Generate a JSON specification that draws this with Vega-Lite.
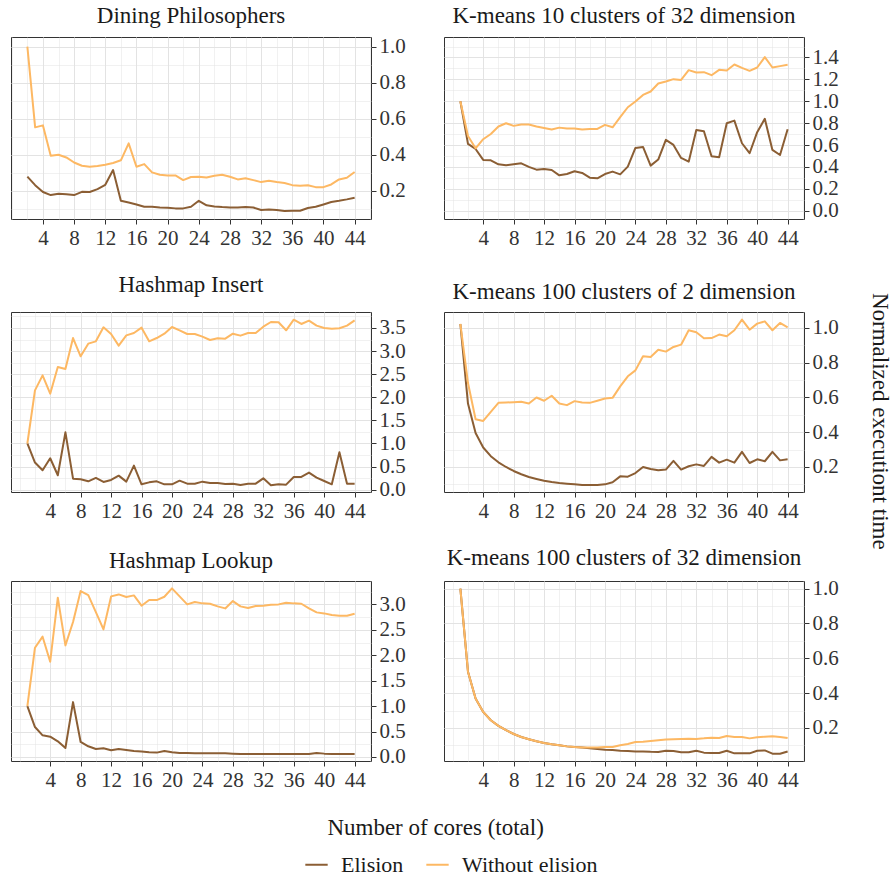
{
"$schema": "https://vega.github.io/schema/vega-lite/v6.json",
"padding": {"left": 10, "top": 4, "right": 2, "bottom": 3},
"datasets": {"d": [
{"p":"dp","c":2,"Elision":0.278,"Without elision":1.0},{"p":"dp","c":3,"Elision":0.231,"Without elision":0.552},{"p":"dp","c":4,"Elision":0.193,"Without elision":0.563},{"p":"dp","c":5,"Elision":0.176,"Without elision":0.394},{"p":"dp","c":6,"Elision":0.183,"Without elision":0.4},{"p":"dp","c":7,"Elision":0.181,"Without elision":0.385},{"p":"dp","c":8,"Elision":0.176,"Without elision":0.357},{"p":"dp","c":9,"Elision":0.194,"Without elision":0.339},{"p":"dp","c":10,"Elision":0.193,"Without elision":0.333},{"p":"dp","c":11,"Elision":0.209,"Without elision":0.337},{"p":"dp","c":12,"Elision":0.233,"Without elision":0.344},{"p":"dp","c":13,"Elision":0.315,"Without elision":0.354},{"p":"dp","c":14,"Elision":0.144,"Without elision":0.369},{"p":"dp","c":15,"Elision":0.135,"Without elision":0.463},{"p":"dp","c":16,"Elision":0.124,"Without elision":0.333},{"p":"dp","c":17,"Elision":0.111,"Without elision":0.348},{"p":"dp","c":18,"Elision":0.111,"Without elision":0.302},{"p":"dp","c":19,"Elision":0.107,"Without elision":0.289},{"p":"dp","c":20,"Elision":0.106,"Without elision":0.285},{"p":"dp","c":21,"Elision":0.102,"Without elision":0.285},{"p":"dp","c":22,"Elision":0.102,"Without elision":0.259},{"p":"dp","c":23,"Elision":0.111,"Without elision":0.276},{"p":"dp","c":24,"Elision":0.144,"Without elision":0.278},{"p":"dp","c":25,"Elision":0.119,"Without elision":0.274},{"p":"dp","c":26,"Elision":0.113,"Without elision":0.283},{"p":"dp","c":27,"Elision":0.109,"Without elision":0.289},{"p":"dp","c":28,"Elision":0.107,"Without elision":0.278},{"p":"dp","c":29,"Elision":0.107,"Without elision":0.263},{"p":"dp","c":30,"Elision":0.109,"Without elision":0.269},{"p":"dp","c":31,"Elision":0.107,"Without elision":0.259},{"p":"dp","c":32,"Elision":0.093,"Without elision":0.248},{"p":"dp","c":33,"Elision":0.096,"Without elision":0.256},{"p":"dp","c":34,"Elision":0.093,"Without elision":0.248},{"p":"dp","c":35,"Elision":0.087,"Without elision":0.243},{"p":"dp","c":36,"Elision":0.089,"Without elision":0.231},{"p":"dp","c":37,"Elision":0.089,"Without elision":0.228},{"p":"dp","c":38,"Elision":0.104,"Without elision":0.23},{"p":"dp","c":39,"Elision":0.111,"Without elision":0.22},{"p":"dp","c":40,"Elision":0.124,"Without elision":0.22},{"p":"dp","c":41,"Elision":0.137,"Without elision":0.235},{"p":"dp","c":42,"Elision":0.144,"Without elision":0.263},{"p":"dp","c":43,"Elision":0.152,"Without elision":0.272},{"p":"dp","c":44,"Elision":0.161,"Without elision":0.304},
{"p":"k10","c":1,"Elision":1.0,"Without elision":1.0},{"p":"k10","c":2,"Elision":0.61,"Without elision":0.683},{"p":"k10","c":3,"Elision":0.564,"Without elision":0.57},{"p":"k10","c":4,"Elision":0.464,"Without elision":0.653},{"p":"k10","c":5,"Elision":0.46,"Without elision":0.701},{"p":"k10","c":6,"Elision":0.424,"Without elision":0.769},{"p":"k10","c":7,"Elision":0.415,"Without elision":0.799},{"p":"k10","c":8,"Elision":0.424,"Without elision":0.775},{"p":"k10","c":9,"Elision":0.433,"Without elision":0.787},{"p":"k10","c":10,"Elision":0.4,"Without elision":0.787},{"p":"k10","c":11,"Elision":0.375,"Without elision":0.769},{"p":"k10","c":12,"Elision":0.381,"Without elision":0.756},{"p":"k10","c":13,"Elision":0.372,"Without elision":0.741},{"p":"k10","c":14,"Elision":0.323,"Without elision":0.759},{"p":"k10","c":15,"Elision":0.335,"Without elision":0.75},{"p":"k10","c":16,"Elision":0.36,"Without elision":0.75},{"p":"k10","c":17,"Elision":0.345,"Without elision":0.741},{"p":"k10","c":18,"Elision":0.302,"Without elision":0.747},{"p":"k10","c":19,"Elision":0.296,"Without elision":0.747},{"p":"k10","c":20,"Elision":0.335,"Without elision":0.784},{"p":"k10","c":21,"Elision":0.357,"Without elision":0.762},{"p":"k10","c":22,"Elision":0.332,"Without elision":0.854},{"p":"k10","c":23,"Elision":0.403,"Without elision":0.945},{"p":"k10","c":24,"Elision":0.573,"Without elision":0.997},{"p":"k10","c":25,"Elision":0.582,"Without elision":1.058},{"p":"k10","c":26,"Elision":0.412,"Without elision":1.089},{"p":"k10","c":27,"Elision":0.467,"Without elision":1.162},{"p":"k10","c":28,"Elision":0.647,"Without elision":1.18},{"p":"k10","c":29,"Elision":0.601,"Without elision":1.202},{"p":"k10","c":30,"Elision":0.482,"Without elision":1.195},{"p":"k10","c":31,"Elision":0.448,"Without elision":1.284},{"p":"k10","c":32,"Elision":0.738,"Without elision":1.263},{"p":"k10","c":33,"Elision":0.726,"Without elision":1.266},{"p":"k10","c":34,"Elision":0.497,"Without elision":1.238},{"p":"k10","c":35,"Elision":0.488,"Without elision":1.287},{"p":"k10","c":36,"Elision":0.799,"Without elision":1.281},{"p":"k10","c":37,"Elision":0.823,"Without elision":1.336},{"p":"k10","c":38,"Elision":0.616,"Without elision":1.305},{"p":"k10","c":39,"Elision":0.525,"Without elision":1.278},{"p":"k10","c":40,"Elision":0.717,"Without elision":1.308},{"p":"k10","c":41,"Elision":0.839,"Without elision":1.403},{"p":"k10","c":42,"Elision":0.555,"Without elision":1.308},{"p":"k10","c":43,"Elision":0.509,"Without elision":1.321},{"p":"k10","c":44,"Elision":0.744,"Without elision":1.333},
{"p":"hi","c":1,"Elision":1.0,"Without elision":1.0},{"p":"hi","c":2,"Elision":0.587,"Without elision":2.15},{"p":"hi","c":3,"Elision":0.42,"Without elision":2.475},{"p":"hi","c":4,"Elision":0.681,"Without elision":2.078},{"p":"hi","c":5,"Elision":0.312,"Without elision":2.656},{"p":"hi","c":6,"Elision":1.241,"Without elision":2.612},{"p":"hi","c":7,"Elision":0.239,"Without elision":3.283},{"p":"hi","c":8,"Elision":0.225,"Without elision":2.887},{"p":"hi","c":9,"Elision":0.181,"Without elision":3.161},{"p":"hi","c":10,"Elision":0.254,"Without elision":3.211},{"p":"hi","c":11,"Elision":0.167,"Without elision":3.514},{"p":"hi","c":12,"Elision":0.21,"Without elision":3.37},{"p":"hi","c":13,"Elision":0.304,"Without elision":3.118},{"p":"hi","c":14,"Elision":0.174,"Without elision":3.341},{"p":"hi","c":15,"Elision":0.522,"Without elision":3.392},{"p":"hi","c":16,"Elision":0.116,"Without elision":3.507},{"p":"hi","c":17,"Elision":0.159,"Without elision":3.211},{"p":"hi","c":18,"Elision":0.181,"Without elision":3.283},{"p":"hi","c":19,"Elision":0.116,"Without elision":3.377},{"p":"hi","c":20,"Elision":0.116,"Without elision":3.522},{"p":"hi","c":21,"Elision":0.196,"Without elision":3.45},{"p":"hi","c":22,"Elision":0.13,"Without elision":3.37},{"p":"hi","c":23,"Elision":0.13,"Without elision":3.37},{"p":"hi","c":24,"Elision":0.174,"Without elision":3.312},{"p":"hi","c":25,"Elision":0.145,"Without elision":3.24},{"p":"hi","c":26,"Elision":0.145,"Without elision":3.276},{"p":"hi","c":27,"Elision":0.123,"Without elision":3.269},{"p":"hi","c":28,"Elision":0.13,"Without elision":3.377},{"p":"hi","c":29,"Elision":0.101,"Without elision":3.334},{"p":"hi","c":30,"Elision":0.13,"Without elision":3.392},{"p":"hi","c":31,"Elision":0.13,"Without elision":3.392},{"p":"hi","c":32,"Elision":0.246,"Without elision":3.529},{"p":"hi","c":33,"Elision":0.094,"Without elision":3.63},{"p":"hi","c":34,"Elision":0.116,"Without elision":3.623},{"p":"hi","c":35,"Elision":0.109,"Without elision":3.45},{"p":"hi","c":36,"Elision":0.275,"Without elision":3.68},{"p":"hi","c":37,"Elision":0.275,"Without elision":3.587},{"p":"hi","c":38,"Elision":0.37,"Without elision":3.659},{"p":"hi","c":39,"Elision":0.261,"Without elision":3.551},{"p":"hi","c":40,"Elision":0.188,"Without elision":3.5},{"p":"hi","c":41,"Elision":0.116,"Without elision":3.486},{"p":"hi","c":42,"Elision":0.812,"Without elision":3.493},{"p":"hi","c":43,"Elision":0.13,"Without elision":3.551},{"p":"hi","c":44,"Elision":0.13,"Without elision":3.666},
{"p":"k2","c":1,"Elision":1.023,"Without elision":1.023},{"p":"k2","c":2,"Elision":0.565,"Without elision":0.683},{"p":"k2","c":3,"Elision":0.396,"Without elision":0.475},{"p":"k2","c":4,"Elision":0.312,"Without elision":0.465},{"p":"k2","c":5,"Elision":0.262,"Without elision":0.517},{"p":"k2","c":6,"Elision":0.227,"Without elision":0.569},{"p":"k2","c":7,"Elision":0.2,"Without elision":0.571},{"p":"k2","c":8,"Elision":0.177,"Without elision":0.573},{"p":"k2","c":9,"Elision":0.158,"Without elision":0.575},{"p":"k2","c":10,"Elision":0.142,"Without elision":0.565},{"p":"k2","c":11,"Elision":0.131,"Without elision":0.6},{"p":"k2","c":12,"Elision":0.121,"Without elision":0.581},{"p":"k2","c":13,"Elision":0.113,"Without elision":0.61},{"p":"k2","c":14,"Elision":0.108,"Without elision":0.565},{"p":"k2","c":15,"Elision":0.104,"Without elision":0.556},{"p":"k2","c":16,"Elision":0.1,"Without elision":0.579},{"p":"k2","c":17,"Elision":0.096,"Without elision":0.571},{"p":"k2","c":18,"Elision":0.096,"Without elision":0.569},{"p":"k2","c":19,"Elision":0.096,"Without elision":0.581},{"p":"k2","c":20,"Elision":0.1,"Without elision":0.594},{"p":"k2","c":21,"Elision":0.112,"Without elision":0.598},{"p":"k2","c":22,"Elision":0.146,"Without elision":0.664},{"p":"k2","c":23,"Elision":0.144,"Without elision":0.722},{"p":"k2","c":24,"Elision":0.165,"Without elision":0.756},{"p":"k2","c":25,"Elision":0.2,"Without elision":0.837},{"p":"k2","c":26,"Elision":0.188,"Without elision":0.833},{"p":"k2","c":27,"Elision":0.181,"Without elision":0.875},{"p":"k2","c":28,"Elision":0.185,"Without elision":0.864},{"p":"k2","c":29,"Elision":0.235,"Without elision":0.891},{"p":"k2","c":30,"Elision":0.185,"Without elision":0.904},{"p":"k2","c":31,"Elision":0.204,"Without elision":0.987},{"p":"k2","c":32,"Elision":0.215,"Without elision":0.975},{"p":"k2","c":33,"Elision":0.206,"Without elision":0.941},{"p":"k2","c":34,"Elision":0.258,"Without elision":0.942},{"p":"k2","c":35,"Elision":0.225,"Without elision":0.962},{"p":"k2","c":36,"Elision":0.242,"Without elision":0.952},{"p":"k2","c":37,"Elision":0.225,"Without elision":0.987},{"p":"k2","c":38,"Elision":0.287,"Without elision":1.048},{"p":"k2","c":39,"Elision":0.223,"Without elision":0.99},{"p":"k2","c":40,"Elision":0.244,"Without elision":1.025},{"p":"k2","c":41,"Elision":0.233,"Without elision":1.038},{"p":"k2","c":42,"Elision":0.287,"Without elision":0.987},{"p":"k2","c":43,"Elision":0.238,"Without elision":1.029},{"p":"k2","c":44,"Elision":0.244,"Without elision":1.004},
{"p":"hl","c":1,"Elision":1.0,"Without elision":1.0},{"p":"hl","c":2,"Elision":0.588,"Without elision":2.148},{"p":"hl","c":3,"Elision":0.425,"Without elision":2.365},{"p":"hl","c":4,"Elision":0.399,"Without elision":1.873},{"p":"hl","c":5,"Elision":0.307,"Without elision":3.131},{"p":"hl","c":6,"Elision":0.176,"Without elision":2.194},{"p":"hl","c":7,"Elision":1.078,"Without elision":2.653},{"p":"hl","c":8,"Elision":0.294,"Without elision":3.262},{"p":"hl","c":9,"Elision":0.209,"Without elision":3.183},{"p":"hl","c":10,"Elision":0.157,"Without elision":2.849},{"p":"hl","c":11,"Elision":0.17,"Without elision":2.509},{"p":"hl","c":12,"Elision":0.131,"Without elision":3.157},{"p":"hl","c":13,"Elision":0.157,"Without elision":3.196},{"p":"hl","c":14,"Elision":0.137,"Without elision":3.144},{"p":"hl","c":15,"Elision":0.118,"Without elision":3.177},{"p":"hl","c":16,"Elision":0.105,"Without elision":2.974},{"p":"hl","c":17,"Elision":0.092,"Without elision":3.085},{"p":"hl","c":18,"Elision":0.085,"Without elision":3.085},{"p":"hl","c":19,"Elision":0.118,"Without elision":3.151},{"p":"hl","c":20,"Elision":0.092,"Without elision":3.314},{"p":"hl","c":21,"Elision":0.078,"Without elision":3.157},{"p":"hl","c":22,"Elision":0.075,"Without elision":3.0},{"p":"hl","c":23,"Elision":0.072,"Without elision":3.046},{"p":"hl","c":24,"Elision":0.072,"Without elision":3.02},{"p":"hl","c":25,"Elision":0.072,"Without elision":3.013},{"p":"hl","c":26,"Elision":0.072,"Without elision":2.961},{"p":"hl","c":27,"Elision":0.072,"Without elision":2.921},{"p":"hl","c":28,"Elision":0.065,"Without elision":3.065},{"p":"hl","c":29,"Elision":0.059,"Without elision":2.961},{"p":"hl","c":30,"Elision":0.059,"Without elision":2.928},{"p":"hl","c":31,"Elision":0.059,"Without elision":2.967},{"p":"hl","c":32,"Elision":0.059,"Without elision":2.974},{"p":"hl","c":33,"Elision":0.059,"Without elision":2.993},{"p":"hl","c":34,"Elision":0.059,"Without elision":3.0},{"p":"hl","c":35,"Elision":0.059,"Without elision":3.033},{"p":"hl","c":36,"Elision":0.059,"Without elision":3.02},{"p":"hl","c":37,"Elision":0.059,"Without elision":3.013},{"p":"hl","c":38,"Elision":0.059,"Without elision":2.921},{"p":"hl","c":39,"Elision":0.078,"Without elision":2.843},{"p":"hl","c":40,"Elision":0.065,"Without elision":2.823},{"p":"hl","c":41,"Elision":0.059,"Without elision":2.79},{"p":"hl","c":42,"Elision":0.059,"Without elision":2.777},{"p":"hl","c":43,"Elision":0.059,"Without elision":2.777},{"p":"hl","c":44,"Elision":0.059,"Without elision":2.816},
{"p":"k32","c":1,"Elision":1.0,"Without elision":1.0},{"p":"k32","c":2,"Elision":0.523,"Without elision":0.523},{"p":"k32","c":3,"Elision":0.369,"Without elision":0.369},{"p":"k32","c":4,"Elision":0.292,"Without elision":0.292},{"p":"k32","c":5,"Elision":0.244,"Without elision":0.244},{"p":"k32","c":6,"Elision":0.212,"Without elision":0.212},{"p":"k32","c":7,"Elision":0.187,"Without elision":0.187},{"p":"k32","c":8,"Elision":0.165,"Without elision":0.165},{"p":"k32","c":9,"Elision":0.148,"Without elision":0.148},{"p":"k32","c":10,"Elision":0.135,"Without elision":0.135},{"p":"k32","c":11,"Elision":0.123,"Without elision":0.123},{"p":"k32","c":12,"Elision":0.113,"Without elision":0.113},{"p":"k32","c":13,"Elision":0.106,"Without elision":0.106},{"p":"k32","c":14,"Elision":0.1,"Without elision":0.1},{"p":"k32","c":15,"Elision":0.094,"Without elision":0.094},{"p":"k32","c":16,"Elision":0.09,"Without elision":0.09},{"p":"k32","c":17,"Elision":0.087,"Without elision":0.088},{"p":"k32","c":18,"Elision":0.083,"Without elision":0.087},{"p":"k32","c":19,"Elision":0.079,"Without elision":0.088},{"p":"k32","c":20,"Elision":0.075,"Without elision":0.09},{"p":"k32","c":21,"Elision":0.073,"Without elision":0.09},{"p":"k32","c":22,"Elision":0.069,"Without elision":0.1},{"p":"k32","c":23,"Elision":0.067,"Without elision":0.108},{"p":"k32","c":24,"Elision":0.065,"Without elision":0.119},{"p":"k32","c":25,"Elision":0.065,"Without elision":0.121},{"p":"k32","c":26,"Elision":0.063,"Without elision":0.125},{"p":"k32","c":27,"Elision":0.062,"Without elision":0.129},{"p":"k32","c":28,"Elision":0.069,"Without elision":0.133},{"p":"k32","c":29,"Elision":0.067,"Without elision":0.135},{"p":"k32","c":30,"Elision":0.06,"Without elision":0.137},{"p":"k32","c":31,"Elision":0.06,"Without elision":0.138},{"p":"k32","c":32,"Elision":0.069,"Without elision":0.137},{"p":"k32","c":33,"Elision":0.058,"Without elision":0.14},{"p":"k32","c":34,"Elision":0.056,"Without elision":0.144},{"p":"k32","c":35,"Elision":0.056,"Without elision":0.142},{"p":"k32","c":36,"Elision":0.069,"Without elision":0.154},{"p":"k32","c":37,"Elision":0.054,"Without elision":0.148},{"p":"k32","c":38,"Elision":0.054,"Without elision":0.148},{"p":"k32","c":39,"Elision":0.054,"Without elision":0.14},{"p":"k32","c":40,"Elision":0.069,"Without elision":0.146},{"p":"k32","c":41,"Elision":0.071,"Without elision":0.15},{"p":"k32","c":42,"Elision":0.052,"Without elision":0.152},{"p":"k32","c":43,"Elision":0.052,"Without elision":0.148},{"p":"k32","c":44,"Elision":0.065,"Without elision":0.142}
]},
"vconcat": [{
  "title": {"text": "Number of cores (total)", "orient": "bottom", "offset": 26, "dx": -15, "font": "Liberation Serif, DejaVu Serif, serif", "fontSize": 23, "fontWeight": "normal"},
  "hconcat": [{
    "title": {"text": "Normalized executiont time", "orient": "right", "offset": 29, "dx": 24, "font": "Liberation Serif, DejaVu Serif, serif", "fontSize": 23, "fontWeight": "normal"},
    "spacing": 24,
    "vconcat": [
      {"spacing": 37, "hconcat": [
        {"title": "Dining Philosophers", "width": 360, "height": 182, "data": {"name": "d"},
         "transform": [{"filter": "datum.p === 'dp'"}, {"fold": ["Elision", "Without elision"], "as": ["series", "value"]}],
         "mark": {"type": "line", "strokeWidth": 2, "strokeJoin": "round"},
         "encoding": {
           "x": {"field": "c", "type": "quantitative", "scale": {"domain": [-0.1, 46.1], "nice": false, "zero": false},
                 "axis": {"title": null, "values": [0,2,4,6,8,10,12,14,16,18,20,22,24,26,28,30,32,34,36,38,40,42,44,46], "labelExpr": "datum.value % 4 === 0 && datum.value > 0 ? datum.label : ''", "gridWidth": {"condition": {"test": "datum.value % 4 === 0 && datum.value > 0", "value": 1}, "value": 0.5}, "tickOpacity": {"condition": {"test": "datum.value % 4 === 0 && datum.value > 0", "value": 1}, "value": 0}}},
           "y": {"field": "value", "type": "quantitative", "scale": {"domain": [0.043, 1.054], "nice": false, "zero": false},
                 "axis": {"orient": "right", "title": null, "format": ".1f", "values": [0.1,0.2,0.3,0.4,0.5,0.6,0.7,0.8,0.9,1.0], "labelExpr": "abs(datum.value*5 - round(datum.value*5)) < 1e-6 ? datum.label : ''", "gridWidth": {"condition": {"test": "abs(datum.value*5 - round(datum.value*5)) < 1e-6", "value": 1}, "value": 0.5}, "tickOpacity": {"condition": {"test": "abs(datum.value*5 - round(datum.value*5)) < 1e-6", "value": 1}, "value": 0}}},
           "color": {"field": "series", "type": "nominal", "scale": {"domain": ["Elision", "Without elision"], "range": ["#8b5e34", "#fdb863"]}, "legend": {"title": null, "labelFont": "Liberation Serif, DejaVu Serif, serif"}}
         }},
        {"title": "K-means 10 clusters of 32 dimension", "width": 360, "height": 182, "data": {"name": "d"},
         "transform": [{"filter": "datum.p === 'k10'"}, {"fold": ["Elision", "Without elision"], "as": ["series", "value"]}],
         "mark": {"type": "line", "strokeWidth": 2, "strokeJoin": "round"},
         "encoding": {
           "x": {"field": "c", "type": "quantitative", "scale": {"domain": [-1.15, 46.15], "nice": false, "zero": false},
                 "axis": {"title": null, "values": [0,2,4,6,8,10,12,14,16,18,20,22,24,26,28,30,32,34,36,38,40,42,44,46], "labelExpr": "datum.value % 4 === 0 && datum.value > 0 ? datum.label : ''", "gridWidth": {"condition": {"test": "datum.value % 4 === 0 && datum.value > 0", "value": 1}, "value": 0.5}, "tickOpacity": {"condition": {"test": "datum.value % 4 === 0 && datum.value > 0", "value": 1}, "value": 0}}},
           "y": {"field": "value", "type": "quantitative", "scale": {"domain": [-0.076, 1.587], "nice": false, "zero": false},
                 "axis": {"orient": "right", "title": null, "format": ".1f", "values": [0,0.1,0.2,0.3,0.4,0.5,0.6,0.7,0.8,0.9,1.0,1.1,1.2,1.3,1.4,1.5], "labelExpr": "abs(datum.value*5 - round(datum.value*5)) < 1e-6 ? datum.label : ''", "gridWidth": {"condition": {"test": "abs(datum.value*5 - round(datum.value*5)) < 1e-6", "value": 1}, "value": 0.5}, "tickOpacity": {"condition": {"test": "abs(datum.value*5 - round(datum.value*5)) < 1e-6", "value": 1}, "value": 0}}},
           "color": {"field": "series", "type": "nominal", "scale": {"domain": ["Elision", "Without elision"], "range": ["#8b5e34", "#fdb863"]}, "legend": {"title": null, "labelFont": "Liberation Serif, DejaVu Serif, serif"}}
         }}
      ]},
      {"spacing": 37, "hconcat": [
        {"title": "Hashmap Insert", "width": 360, "height": 180, "data": {"name": "d"},
         "transform": [{"filter": "datum.p === 'hi'"}, {"fold": ["Elision", "Without elision"], "as": ["series", "value"]}],
         "mark": {"type": "line", "strokeWidth": 2, "strokeJoin": "round"},
         "encoding": {
           "x": {"field": "c", "type": "quantitative", "scale": {"domain": [-1.15, 46.15], "nice": false, "zero": false},
                 "axis": {"title": null, "values": [0,2,4,6,8,10,12,14,16,18,20,22,24,26,28,30,32,34,36,38,40,42,44,46], "labelExpr": "datum.value % 4 === 0 && datum.value > 0 ? datum.label : ''", "gridWidth": {"condition": {"test": "datum.value % 4 === 0 && datum.value > 0", "value": 1}, "value": 0.5}, "tickOpacity": {"condition": {"test": "datum.value % 4 === 0 && datum.value > 0", "value": 1}, "value": 0}}},
           "y": {"field": "value", "type": "quantitative", "scale": {"domain": [-0.05, 3.846], "nice": false, "zero": false},
                 "axis": {"orient": "right", "title": null, "format": ".1f", "values": [0,0.25,0.5,0.75,1,1.25,1.5,1.75,2,2.25,2.5,2.75,3,3.25,3.5,3.75], "labelExpr": "datum.value % 0.5 === 0 ? datum.label : ''", "gridWidth": {"condition": {"test": "datum.value % 0.5 === 0", "value": 1}, "value": 0.5}, "tickOpacity": {"condition": {"test": "datum.value % 0.5 === 0", "value": 1}, "value": 0}}},
           "color": {"field": "series", "type": "nominal", "scale": {"domain": ["Elision", "Without elision"], "range": ["#8b5e34", "#fdb863"]}, "legend": {"title": null, "labelFont": "Liberation Serif, DejaVu Serif, serif"}}
         }},
        {"title": "K-means 100 clusters of 2 dimension", "width": 360, "height": 180, "data": {"name": "d"},
         "transform": [{"filter": "datum.p === 'k2'"}, {"fold": ["Elision", "Without elision"], "as": ["series", "value"]}],
         "mark": {"type": "line", "strokeWidth": 2, "strokeJoin": "round"},
         "encoding": {
           "x": {"field": "c", "type": "quantitative", "scale": {"domain": [-1.15, 46.15], "nice": false, "zero": false},
                 "axis": {"title": null, "values": [0,2,4,6,8,10,12,14,16,18,20,22,24,26,28,30,32,34,36,38,40,42,44,46], "labelExpr": "datum.value % 4 === 0 && datum.value > 0 ? datum.label : ''", "gridWidth": {"condition": {"test": "datum.value % 4 === 0 && datum.value > 0", "value": 1}, "value": 0.5}, "tickOpacity": {"condition": {"test": "datum.value % 4 === 0 && datum.value > 0", "value": 1}, "value": 0}}},
           "y": {"field": "value", "type": "quantitative", "scale": {"domain": [0.056, 1.092], "nice": false, "zero": false},
                 "axis": {"orient": "right", "title": null, "format": ".1f", "values": [0.1,0.2,0.3,0.4,0.5,0.6,0.7,0.8,0.9,1.0], "labelExpr": "abs(datum.value*5 - round(datum.value*5)) < 1e-6 ? datum.label : ''", "gridWidth": {"condition": {"test": "abs(datum.value*5 - round(datum.value*5)) < 1e-6", "value": 1}, "value": 0.5}, "tickOpacity": {"condition": {"test": "abs(datum.value*5 - round(datum.value*5)) < 1e-6", "value": 1}, "value": 0}}},
           "color": {"field": "series", "type": "nominal", "scale": {"domain": ["Elision", "Without elision"], "range": ["#8b5e34", "#fdb863"]}, "legend": {"title": null, "labelFont": "Liberation Serif, DejaVu Serif, serif"}}
         }}
      ]},
      {"spacing": 37, "hconcat": [
        {"title": "Hashmap Lookup", "width": 360, "height": 180, "data": {"name": "d"},
         "transform": [{"filter": "datum.p === 'hl'"}, {"fold": ["Elision", "Without elision"], "as": ["series", "value"]}],
         "mark": {"type": "line", "strokeWidth": 2, "strokeJoin": "round"},
         "encoding": {
           "x": {"field": "c", "type": "quantitative", "scale": {"domain": [-1.15, 46.15], "nice": false, "zero": false},
                 "axis": {"title": null, "values": [0,2,4,6,8,10,12,14,16,18,20,22,24,26,28,30,32,34,36,38,40,42,44,46], "labelExpr": "datum.value % 4 === 0 && datum.value > 0 ? datum.label : ''", "gridWidth": {"condition": {"test": "datum.value % 4 === 0 && datum.value > 0", "value": 1}, "value": 0.5}, "tickOpacity": {"condition": {"test": "datum.value % 4 === 0 && datum.value > 0", "value": 1}, "value": 0}}},
           "y": {"field": "value", "type": "quantitative", "scale": {"domain": [-0.08, 3.46], "nice": false, "zero": false},
                 "axis": {"orient": "right", "title": null, "format": ".1f", "values": [0,0.25,0.5,0.75,1,1.25,1.5,1.75,2,2.25,2.5,2.75,3,3.25], "labelExpr": "datum.value % 0.5 === 0 ? datum.label : ''", "gridWidth": {"condition": {"test": "datum.value % 0.5 === 0", "value": 1}, "value": 0.5}, "tickOpacity": {"condition": {"test": "datum.value % 0.5 === 0", "value": 1}, "value": 0}}},
           "color": {"field": "series", "type": "nominal", "scale": {"domain": ["Elision", "Without elision"], "range": ["#8b5e34", "#fdb863"]}, "legend": {"title": null, "labelFont": "Liberation Serif, DejaVu Serif, serif"}}
         }},
        {"title": "K-means 100 clusters of 32 dimension", "width": 360, "height": 180, "data": {"name": "d"},
         "transform": [{"filter": "datum.p === 'k32'"}, {"fold": ["Elision", "Without elision"], "as": ["series", "value"]}],
         "mark": {"type": "line", "strokeWidth": 2, "strokeJoin": "round"},
         "encoding": {
           "x": {"field": "c", "type": "quantitative", "scale": {"domain": [-1.15, 46.15], "nice": false, "zero": false},
                 "axis": {"title": null, "values": [0,2,4,6,8,10,12,14,16,18,20,22,24,26,28,30,32,34,36,38,40,42,44,46], "labelExpr": "datum.value % 4 === 0 && datum.value > 0 ? datum.label : ''", "gridWidth": {"condition": {"test": "datum.value % 4 === 0 && datum.value > 0", "value": 1}, "value": 0.5}, "tickOpacity": {"condition": {"test": "datum.value % 4 === 0 && datum.value > 0", "value": 1}, "value": 0}}},
           "y": {"field": "value", "type": "quantitative", "scale": {"domain": [0.01, 1.044], "nice": false, "zero": false},
                 "axis": {"orient": "right", "title": null, "format": ".1f", "values": [0.1,0.2,0.3,0.4,0.5,0.6,0.7,0.8,0.9,1.0], "labelExpr": "abs(datum.value*5 - round(datum.value*5)) < 1e-6 ? datum.label : ''", "gridWidth": {"condition": {"test": "abs(datum.value*5 - round(datum.value*5)) < 1e-6", "value": 1}, "value": 0.5}, "tickOpacity": {"condition": {"test": "abs(datum.value*5 - round(datum.value*5)) < 1e-6", "value": 1}, "value": 0}}},
           "color": {"field": "series", "type": "nominal", "scale": {"domain": ["Elision", "Without elision"], "range": ["#8b5e34", "#fdb863"]}, "legend": {"title": null, "labelFont": "Liberation Serif, DejaVu Serif, serif"}}
         }}
      ]}
    ]
  }]
}],
"config": {
  "font": "Liberation Serif, DejaVu Serif, serif",
  "view": {"stroke": "#333333", "strokeWidth": 1},
  "axis": {"domain": false, "labelFont": "Liberation Serif, DejaVu Serif, serif", "labelFontSize": 21, "labelColor": "#333333", "tickColor": "#333333", "tickSize": 5, "labelPadding": 3, "gridColor": "#e3e3e3", "labelOverlap": false, "labelBound": false, "labelFlush": false},
  "title": {"font": "Liberation Serif, DejaVu Serif, serif", "fontSize": 23, "fontWeight": "normal", "color": "#1a1a1a", "offset": 8, "anchor": "middle"},
  "legend": {"orient": "bottom", "direction": "horizontal", "labelFont": "Liberation Serif, DejaVu Serif, serif", "labelFontSize": 22, "labelColor": "#1a1a1a", "symbolType": "stroke", "symbolStrokeWidth": 2, "symbolSize": 500, "columnPadding": 18, "labelOffset": 12, "offset": 12, "layout": {"bottom": {"anchor": "middle"}}}
}
}
